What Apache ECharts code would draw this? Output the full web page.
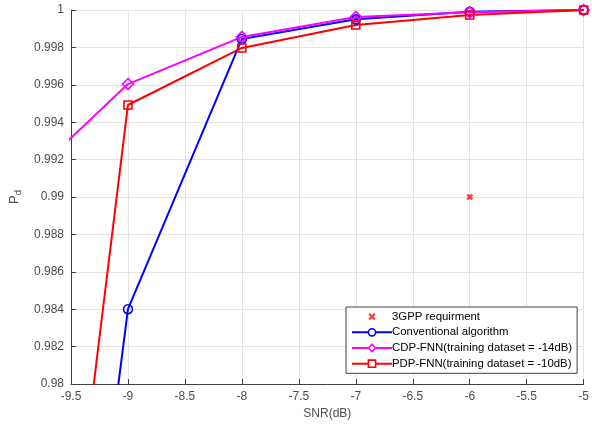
<!DOCTYPE html>
<html><head><meta charset="utf-8">
<script src="https://cdn.jsdelivr.net/npm/echarts@6/dist/echarts.min.js"></script>
<style>html,body{margin:0;padding:0;background:#fff}#c{width:592px;height:425px}</style>
</head><body><div id="c"></div>
<script>
const snr = [-10, -9, -8, -7, -6, -5];
const conventional = [0.9364, 0.9840, 0.99845, 0.99950, 0.99990, 1.0];
const cdpFnn = [0.99028, 0.99604, 0.99856, 0.99963, 0.99988, 1.0];
const pdpFnn = [0.9452, 0.99492, 0.99797, 0.99920, 0.99973, 1.0];
const req3gpp = [[-6, 0.99]];
const names = ['3GPP requirment', 'Conventional algorithm', 'CDP-FNN(training dataset = -14dB)', 'PDP-FNN(training dataset = -10dB)'];
const colors = ['#ff0000', '#0000ff', '#ff00ff', '#ff0000'];

const pair = arr => snr.map((x, i) => [x, arr[i]]);
const font = '"Liberation Sans", Helvetica, Arial, sans-serif';
const axisGray = '#404040';
const labelGray = '#4d4d4d';
const chart = echarts.init(document.getElementById('c'), null, {renderer: 'canvas'});
const lineSeries = (name, data, color, symbol, size) => ({
  name, type: 'line', data: pair(data), symbol, symbolSize: size, clip: true,
  lineStyle: {color, width: 2},
  itemStyle: {color: 'rgba(255,255,255,0)', borderColor: color, borderWidth: 1.6},
  emphasis: {disabled: true}, z: 3
});
chart.setOption({
  animation: false,
  backgroundColor: '#fff',
  grid: {left: 69, right: 4, top: 10, bottom: 41},
  xAxis: {
    type: 'value', min: -9.5, max: -5, interval: 0.5,
    name: 'SNR(dB)', nameLocation: 'middle', nameGap: 22,
    nameTextStyle: {color: labelGray, fontSize: 12, fontFamily: font},
    axisLine: {show: true, lineStyle: {color: axisGray}},
    axisTick: {show: true, inside: true, length: 5, lineStyle: {color: axisGray}},
    axisLabel: {color: labelGray, fontSize: 12, fontFamily: font, margin: 7, formatter: v => String(+v.toFixed(1))},
    splitLine: {show: true, lineStyle: {color: '#e3e3e3', width: 1}}
  },
  yAxis: {
    type: 'value', min: 0.98, max: 1, interval: 0.002,
    name: '{p|P}{d|d}', nameLocation: 'middle', nameGap: 48, nameRotate: 90,
    nameTextStyle: {color: labelGray, fontFamily: font, rich: {p: {fontSize: 13, color: labelGray, fontFamily: font}, d: {fontSize: 9.5, color: labelGray, fontFamily: font, verticalAlign: 'bottom', padding: [7, 0, 0, 0]}}},
    axisLine: {show: true, lineStyle: {color: axisGray}},
    axisTick: {show: true, inside: true, length: 5, lineStyle: {color: axisGray}},
    axisLabel: {color: labelGray, fontSize: 12, fontFamily: font, margin: 7, formatter: v => String(+v.toFixed(3))},
    splitLine: {show: true, lineStyle: {color: '#e3e3e3', width: 1}}
  },
  legend: {
    left: 346, top: 307, orient: 'vertical', itemGap: 2.5,
    itemWidth: 40, itemHeight: 9,
    backgroundColor: '#fff', borderColor: axisGray, borderWidth: 1,
    padding: [3, 5, 3, 5],
    textStyle: {color: '#000', fontSize: 11.4, fontFamily: font, lineHeight: 13.2, padding: [0, 0, 0, -5]},
    data: names.map((n, i) => i === 0
      ? {name: n, icon: 'path://M-3,-3L-3,-3M13,13L13,13M0,0L10,10M10,0L0,10', itemStyle: {color: '#ff0000', borderColor: '#ff0000', borderWidth: 2.2}}
      : {name: n, itemStyle: {color: '#fff', borderColor: colors[i], borderWidth: 1.6}})
  },
  series: [
    {
      name: names[0], type: 'scatter', data: req3gpp,
      symbol: 'path://M0,0L10,10M10,0L0,10', symbolSize: 5,
      itemStyle: {color: '#ff0000', borderColor: '#ff0000', borderWidth: 2.2},
      emphasis: {disabled: true}, z: 4
    },
    lineSeries(names[1], conventional, colors[1], 'circle', 9),
    lineSeries(names[2], cdpFnn, colors[2], 'diamond', 11),
    lineSeries(names[3], pdpFnn, colors[3], 'rect', 8)
  ]
});
</script></body></html>
